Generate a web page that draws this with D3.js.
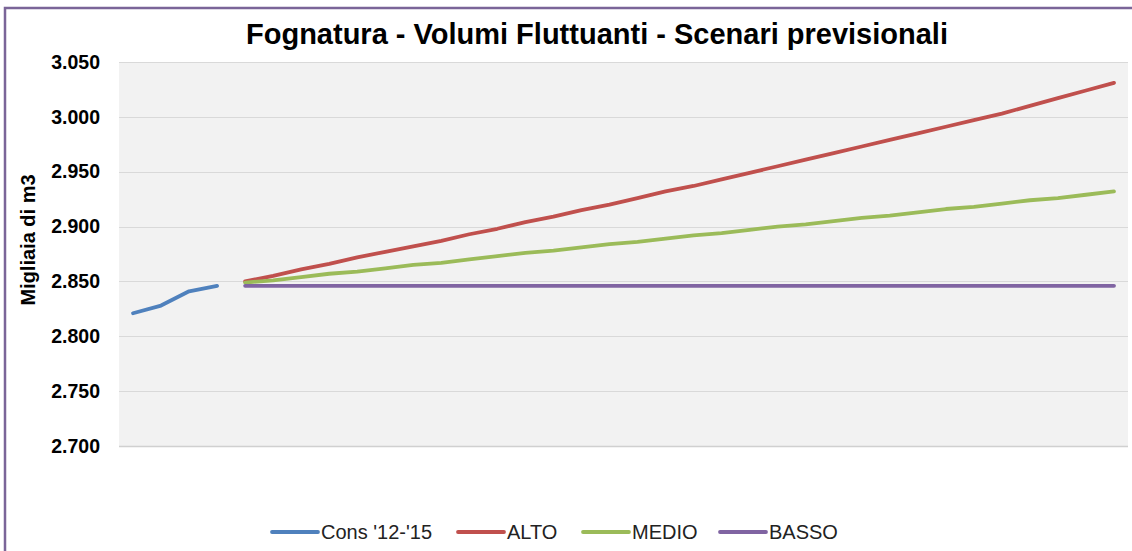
<!DOCTYPE html>
<html>
<head>
<meta charset="utf-8">
<script src="https://cdn.jsdelivr.net/npm/d3@7"></script>
<style>
  body { margin: 0; background: #fff; }
  text { font-family: "Liberation Sans", "DejaVu Sans", sans-serif; }
</style>
</head>
<body>
<div id="chart"></div>
<script>
// Chart data
const years = ["2012","2013","2014","2015","2016","2017","2018","2019","2020","2021","2022","2023",
               "2024","2025","2026","2027","2028","2029","2030","2031","2032","2033","2034","2035",
               "2036","2037","2038","2039","2040","2041","2042","2043","2044","2045","2046","2047"];
const consYears = ["2012","2013","2014","2015"];
const forecastYears = years.slice(4);
const consValues = [2.821, 2.828, 2.841, 2.846];
const altoValues = [2.850, 2.855, 2.861, 2.866, 2.872, 2.877, 2.882, 2.887, 2.893, 2.898, 2.904, 2.909,
                    2.915, 2.920, 2.926, 2.932, 2.937, 2.943, 2.949, 2.955, 2.961, 2.967, 2.973, 2.979,
                    2.985, 2.991, 2.997, 3.003, 3.010, 3.017, 3.024, 3.031];
const medioValues = [2.849, 2.851, 2.854, 2.857, 2.859, 2.862, 2.865, 2.867, 2.870, 2.873, 2.876, 2.878,
                     2.881, 2.884, 2.886, 2.889, 2.892, 2.894, 2.897, 2.900, 2.902, 2.905, 2.908, 2.910,
                     2.913, 2.916, 2.918, 2.921, 2.924, 2.926, 2.929, 2.932];
const bassoValues = [2.846, 2.846, 2.846, 2.846, 2.846, 2.846, 2.846, 2.846, 2.846, 2.846, 2.846, 2.846,
                     2.846, 2.846, 2.846, 2.846, 2.846, 2.846, 2.846, 2.846, 2.846, 2.846, 2.846, 2.846,
                     2.846, 2.846, 2.846, 2.846, 2.846, 2.846, 2.846, 2.846];
const yTicks = [2.700, 2.750, 2.800, 2.850, 2.900, 2.950, 3.000, 3.050];
const seriesNames = ["Cons '12-'15", "ALTO", "MEDIO", "BASSO"];
const seriesColors = ["#4f81bd", "#c0504d", "#9bbb59", "#8064a2"];

// Sizes
const width = 1132;
const height = 551;
const plot = {left: 119, right: 1128, top: 62, bottom: 446};

const svg = d3.select("#chart")
              .append("svg")
              .attr("width", width)
              .attr("height", height);

// Outer frame (only left and top edges are in view)
svg.append("rect")
   .attr("x", 5)
   .attr("y", 8)
   .attr("width", width + 20)
   .attr("height", height + 20)
   .style("fill", "none")
   .style("stroke", "#7a6598")
   .style("stroke-width", 2.5);

// Plot background
svg.append("rect")
   .attr("x", plot.left)
   .attr("y", plot.top)
   .attr("width", plot.right - plot.left)
   .attr("height", plot.bottom - plot.top)
   .style("fill", "#f2f2f2");

// Scales
const x = d3.scalePoint()
            .domain(years)
            .range([plot.left, plot.right])
            .padding(0.5);
const y = d3.scaleLinear()
            .domain([2.700, 3.050])
            .range([plot.bottom, plot.top]);

// Gridlines
svg.append("g")
   .selectAll("line")
   .data(yTicks)
   .enter()
   .append("line")
   .attr("x1", plot.left)
   .attr("x2", plot.right)
   .attr("y1", d => Math.round(y(d)) + 0.5)
   .attr("y2", d => Math.round(y(d)) + 0.5)
   .style("stroke", d => d === 2.700 ? "#d0d0d0" : "#d9d9d9")
   .style("stroke-width", d => d === 2.700 ? 1.5 : 1);

// Y axis labels
const yAxis = d3.axisLeft(y)
                .tickValues(yTicks)
                .tickSize(0)
                .tickPadding(0)
                .tickFormat(d => d3.format(".3f")(d));
svg.append("g")
   .attr("transform", "translate(100,0)")
   .call(yAxis)
   .call(g => g.select(".domain").remove())
   .selectAll("text")
   .style("font-family", "'Liberation Sans', sans-serif")
   .style("font-size", "19.5px")
   .style("font-weight", "bold")
   .style("fill", "#000");

svg.append("text")
   .attr("transform", "translate(35,240) rotate(-90)")
   .attr("text-anchor", "middle")
   .text("Migliaia di m3")
   .style("font-size", "20px")
   .style("font-weight", "bold");

// Title
svg.append("text")
   .attr("x", 597)
   .attr("y", 44)
   .attr("text-anchor", "middle")
   .text("Fognatura - Volumi Fluttuanti - Scenari previsionali")
   .style("font-size", "29px")
   .style("font-weight", "bold");

// Lines
const line = d3.line()
               .x(d => x(d.year))
               .y(d => y(d.value));
const seriesData = [
  consYears.map((yr, i) => ({year: yr, value: consValues[i]})),
  forecastYears.map((yr, i) => ({year: yr, value: altoValues[i]})),
  forecastYears.map((yr, i) => ({year: yr, value: medioValues[i]})),
  forecastYears.map((yr, i) => ({year: yr, value: bassoValues[i]}))
];
seriesData.forEach((d, i) => {
  svg.append("path")
     .datum(d)
     .attr("d", line)
     .style("fill", "none")
     .style("stroke", seriesColors[i])
     .style("stroke-width", 3.8)
     .style("stroke-linecap", "round")
     .style("stroke-linejoin", "round");
});

// Legend
const legendX = [272, 458, 583, 720];
const legend = svg.append("g");
seriesNames.forEach((name, i) => {
  legend.append("line")
        .attr("x1", legendX[i])
        .attr("x2", legendX[i] + 46)
        .attr("y1", 532)
        .attr("y2", 532)
        .style("stroke", seriesColors[i])
        .style("stroke-width", 3.8)
        .style("stroke-linecap", "round");
  legend.append("text")
        .attr("x", legendX[i] + 49)
        .attr("y", 539)
        .text(name)
        .style("font-size", "20px")
        .style("fill", "#222");
});
</script>
</body>
</html>
